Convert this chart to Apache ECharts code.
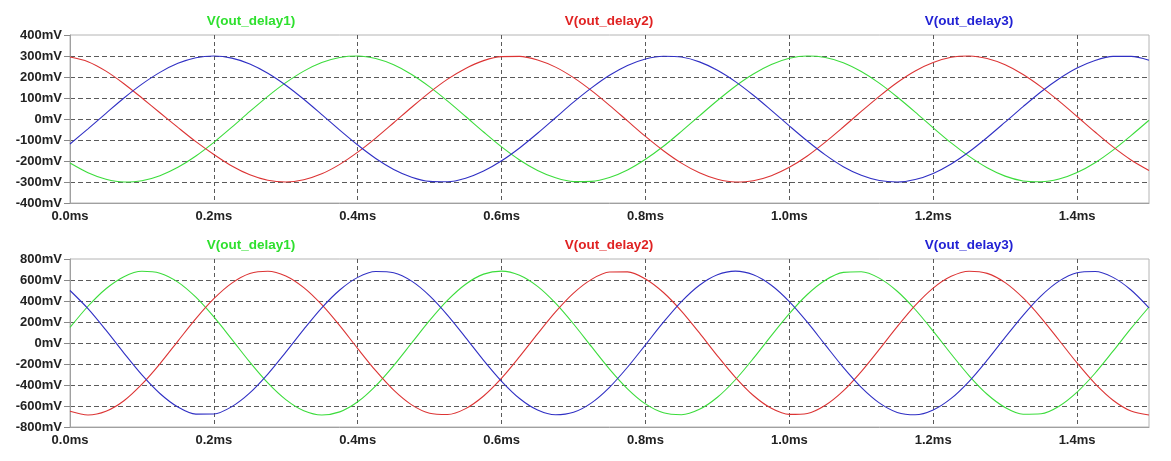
<!DOCTYPE html>
<html>
<head>
<meta charset="utf-8">
<script src="https://cdn.jsdelivr.net/npm/echarts@6/dist/echarts.min.js"></script>
<style>
html,body{margin:0;padding:0;background:#fff;}
#chart{width:1171px;height:461px;}
</style>
</head>
<body>
<div id="chart"></div>
<script>
// time axis (ms)
const times = [0,0.025,0.05,0.075,0.1,0.125,0.15,0.175,0.2,0.225,0.25,0.275,0.3,0.325,0.35,0.375,0.4,0.425,0.45,0.475,0.5,0.525,0.55,0.575,0.6,0.625,0.65,0.675,0.7,0.725,0.75,0.775,0.8,0.825,0.85,0.875,0.9,0.925,0.95,0.975,1.0,1.025,1.05,1.075,1.1,1.125,1.15,1.175,1.2,1.225,1.25,1.275,1.3,1.325,1.35,1.375,1.4,1.425,1.45,1.475,1.5];

// upper pane (mV)
const topDelay1 = [-210,-256,-287,-300,-294,-270,-230,-176,-111,-39,36,108,173,228,269,293,300,288,258,212,153,85,12,-62,-133,-195,-245,-280,-298,-297,-279,-243,-192,-130,-59,15,88,156,214,259,289,300,293,268,226,171,105,33,-42,-114,-178,-232,-272,-295,-299,-286,-255,-208,-148,-79,-6];
const topDelay2 = [295,273,228,168,100,30,-40,-108,-169,-224,-266,-292,-300,-289,-261,-216,-158,-91,-18,56,127,190,241,278,297,298,281,247,197,135,65,-9,-83,-151,-210,-256,-287,-300,-294,-270,-230,-176,-110,-38,36,108,174,229,269,294,300,288,258,212,153,85,12,-62,-133,-195,-245];
const topDelay3 = [-119,-47,27,100,166,222,265,292,300,290,262,218,161,94,21,-53,-124,-188,-240,-277,-297,-299,-282,-248,-199,-138,-68,6,80,148,208,255,286,299,295,272,232,178,113,41,-33,-105,-171,-227,-268,-293,-300,-288,-259,-214,-156,-88,-15,59,130,192,243,279,298,298,280];

// lower pane (mV)
const botDelay1 = [148,350,517,632,683,665,580,436,248,35,-182,-380,-539,-645,-685,-656,-560,-408,-215,0,215,408,560,656,685,645,539,379,181,-35,-248,-436,-580,-665,-683,-632,-517,-350,-147,70,280,462,598,673,679,618,493,319,113,-105,-312,-488,-614,-678,-674,-602,-468,-288,-78,139,343];
const botDelay2 = [-650,-685,-650,-550,-392,-198,18,232,422,570,661,684,639,528,365,165,-53,-264,-449,-589,-669,-681,-625,-505,-335,-130,87,296,475,606,676,677,610,481,304,96,-122,-327,-500,-622,-680,-671,-593,-456,-272,-61,156,358,523,635,684,663,575,429,240,26,-190,-387,-545,-648,-685];
const botDelay3 = [500,327,122,-96,-304,-481,-610,-677,-676,-606,-475,-296,-87,130,335,505,625,681,669,589,449,264,52,-165,-365,-529,-639,-684,-660,-570,-422,-231,-17,198,394,550,650,685,650,550,394,198,-18,-232,-422,-570,-661,-684,-638,-528,-365,-164,53,264,449,589,669,681,625,505,335];

const seriesNames = ['V(out_delay1)','V(out_delay2)','V(out_delay3)'];
const xTicks = {min:0, max:1.5, interval:0.2};
const topTicks = {min:-400, max:400, interval:100};
const botTicks = {min:-800, max:800, interval:200};

[topDelay1,topDelay2,topDelay3,botDelay1,botDelay2,botDelay3].forEach(function(a,i){
  if (a.length !== times.length) throw new Error('length mismatch in array ' + i + ': ' + a.length);
});

const lineColors = ['#3cdc3c','#dc3434','#3030c4'];
const titleColors = ['#2ee02e','#e02222','#2222d4'];

function pairs(vals){ return vals.map(function(v,i){ return [times[i], v]; }); }

const chart = echarts.init(document.getElementById('chart'));

function xAxisFor(g){
  return {
    type:'value', gridIndex:g, min:xTicks.min, max:xTicks.max, interval:xTicks.interval,
    axisLine:{show:true, onZero:false, lineStyle:{color:'#a0a0a0'}},
    axisTick:{show:false},
    axisLabel:{margin:7, fontFamily:'Liberation Sans', fontWeight:'bold', fontSize:13, color:'#222',
      showMaxLabel:false, formatter:function(v){ return v.toFixed(1)+'ms'; }},
    splitLine:{show:true, showMinLine:false, showMaxLine:false, lineStyle:{color:'#5a5a5a', type:[4,3], width:1}}
  };
}
function yAxisFor(g, t){
  return {
    type:'value', gridIndex:g, min:t.min, max:t.max, interval:t.interval,
    axisLine:{show:true, onZero:false, lineStyle:{color:'#a0a0a0'}},
    axisTick:{show:true, length:6, lineStyle:{color:'#888'}},
    axisLabel:{margin:8, fontFamily:'Liberation Sans', fontWeight:'bold', fontSize:13, color:'#222',
      formatter:function(v){ return v+'mV'; }},
    splitLine:{show:true, showMinLine:false, showMaxLine:false, lineStyle:{color:'#5a5a5a', type:[5,3], width:1}}
  };
}

const series = [];
const topData = [topDelay1, topDelay2, topDelay3];
const botData = [botDelay1, botDelay2, botDelay3];
topData.forEach(function(d,i){
  series.push({type:'line', name:seriesNames[i], xAxisIndex:0, yAxisIndex:0, data:pairs(d),
    showSymbol:false, smooth:0.3, lineStyle:{color:lineColors[i], width:1.1}, itemStyle:{color:lineColors[i]}, animation:false});
});
botData.forEach(function(d,i){
  series.push({type:'line', name:seriesNames[i], xAxisIndex:1, yAxisIndex:1, data:pairs(d),
    showSymbol:false, smooth:0.3, lineStyle:{color:lineColors[i], width:1.1}, itemStyle:{color:lineColors[i]}, animation:false});
});

const titleX = [251, 609, 969];
const titleY = [21.5, 245];
const graphics = [];
titleY.forEach(function(y){
  seriesNames.forEach(function(n,i){
    graphics.push({type:'text', x:titleX[i], y:y, style:{text:n, fill:titleColors[i],
      font:'bold 13.5px "Liberation Sans", Arial, sans-serif', align:'center', verticalAlign:'middle',
      textAlign:'center', textVerticalAlign:'middle'}});
  });
});

chart.setOption({
  backgroundColor:'#ffffff',
  animation:false,
  grid:[
    {left:70, right:22, top:35, height:168, show:true, borderColor:'#b4b4b4', borderWidth:1, backgroundColor:'transparent'},
    {left:70, right:22, top:259, height:168, show:true, borderColor:'#b4b4b4', borderWidth:1, backgroundColor:'transparent'}
  ],
  xAxis:[xAxisFor(0), xAxisFor(1)],
  yAxis:[yAxisFor(0, topTicks), yAxisFor(1, botTicks)],
  series:series,
  graphic:graphics
});
</script>
</body>
</html>
